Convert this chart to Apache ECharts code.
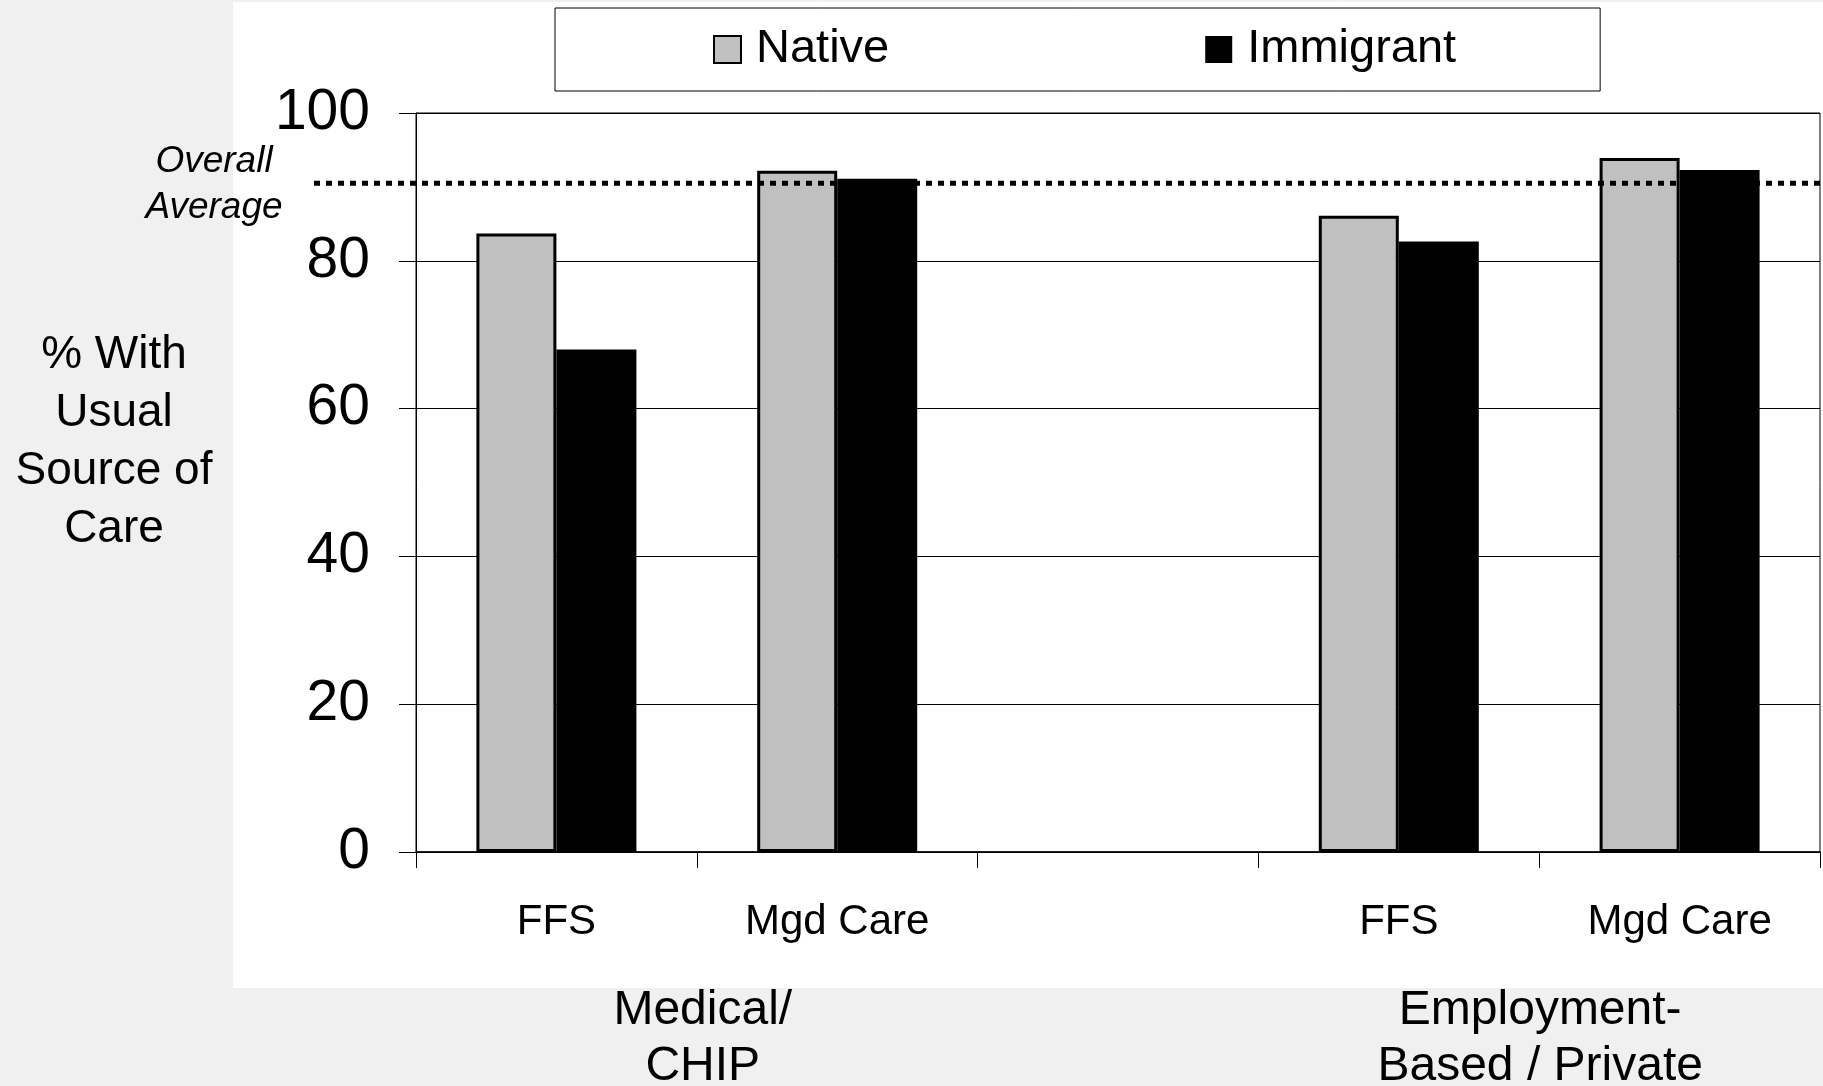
<!DOCTYPE html>
<html>
<head>
<meta charset="utf-8">
<script src="https://cdn.jsdelivr.net/npm/echarts@6/dist/echarts.min.js"></script>
<style>
  html, body { margin: 0; padding: 0; background: #f0f0f0; }
  #chart { width: 1823px; height: 1086px; }
</style>
</head>
<body>
<div id="chart"></div>
<script>
// Categories along the x axis (the empty slot separates the two coverage groups)
const categories = ['FFS', 'Mgd Care', '', 'FFS', 'Mgd Care'];
// % with a usual source of care
const nativeValues = [83.7, 92.2, null, 86.1, 93.9];
const immigrantValues = [68.0, 91.1, null, 82.6, 92.3];
const overallAverage = 90.5;
const yTicks = [0, 20, 40, 60, 80, 100];
const groupLabels = ['Medical/\nCHIP', 'Employment-\nBased / Private'];
const groupCenters = [[0, 1], [3, 4]]; // label sits between these two categories

const FONT = '"Liberation Sans", Arial, Helvetica, sans-serif';

const chart = echarts.init(document.getElementById('chart'), null, { renderer: 'canvas' });

chart.setOption({
  backgroundColor: '#f0f0f0',
  animation: false,
  graphic: [
    { id: 'panel', type: 'rect', z: -10, silent: true,
      shape: { x: 233, y: 2, width: 1590, height: 986 },
      style: { fill: '#ffffff' } }
  ],
  legend: {
    left: 555, top: 8,
    padding: [18, 144, 18, 158],
    itemWidth: 27, itemHeight: 27, itemGap: 316,
    borderColor: '#000', borderWidth: 1, backgroundColor: '#fff',
    icon: 'rect',
    textStyle: { fontSize: 47, fontFamily: FONT, color: '#000', padding: [0, 0, 0, 10] },
    data: [
      { name: 'Native', itemStyle: { color: '#c0c0c0', borderColor: '#000', borderWidth: 2 } },
      { name: 'Immigrant', itemStyle: { color: '#000', borderWidth: 0 } }
    ]
  },
  grid: {
    left: 416, right: 3, top: 113, bottom: 234,
    show: true, borderColor: '#000', borderWidth: 1, backgroundColor: '#fff'
  },
  xAxis: {
    type: 'category',
    data: categories,
    boundaryGap: true,
    axisLine: { show: true, lineStyle: { color: '#000', width: 1.5 } },
    axisTick: { show: true, length: 16, lineStyle: { color: '#000', width: 1 } },
    axisLabel: { fontSize: 42, fontFamily: FONT, color: '#000', margin: 49, interval: 0 }
  },
  yAxis: {
    type: 'value',
    min: yTicks[0], max: yTicks[yTicks.length - 1], interval: 20,
    axisLine: { show: true, lineStyle: { color: '#000', width: 1 } },
    axisTick: { show: true, length: 17, lineStyle: { color: '#000', width: 1 } },
    splitLine: { show: true, lineStyle: { color: '#000', width: 1 } },
    axisLabel: { fontSize: 57, fontFamily: FONT, color: '#000', margin: 46,
                 padding: [4, 0, 0, 0] }
  },
  series: [
    {
      name: 'Native', type: 'bar', data: nativeValues,
      barWidth: 80, barGap: '0%',
      itemStyle: { color: '#c0c0c0', borderColor: '#000', borderWidth: 3 }
    },
    {
      name: 'Immigrant', type: 'bar', data: immigrantValues,
      barWidth: 80,
      itemStyle: { color: '#000' }
    }
  ]
});

// Overlay: average reference line, axis title and group captions, placed via the axis scales
const yAvg = chart.convertToPixel({ yAxisIndex: 0 }, overallAverage);
const xAt = i => chart.convertToPixel({ xAxisIndex: 0 }, i);

const overlay = [
  { id: 'avgLine', type: 'line', z: 100, silent: true,
    shape: { x1: 314, y1: yAvg, x2: 1823, y2: yAvg },
    style: { stroke: '#000', lineWidth: 5, lineDash: [6, 6], lineCap: 'butt' } },
  { id: 'avgText', type: 'text', z: 100, silent: true,
    style: { text: 'Overall\nAverage', x: 214, y: yAvg + 1, align: 'center', verticalAlign: 'middle',
             font: 'italic 37px ' + FONT, lineHeight: 46, fill: '#000' } },
  { id: 'yTitle', type: 'text', z: 100, silent: true,
    style: { text: '% With\nUsual\nSource of\nCare', x: 114, y: 442, align: 'center', verticalAlign: 'middle',
             font: '46px ' + FONT, lineHeight: 58, fill: '#000' } }
];
groupLabels.forEach((label, g) => {
  const cx = (xAt(groupCenters[g][0]) + xAt(groupCenters[g][1])) / 2 + (g === 0 ? 6 : 1);
  overlay.push({ id: 'group' + g, type: 'text', z: 100, silent: true,
    style: { text: label, x: cx, y: 1039, align: 'center', verticalAlign: 'middle',
             font: '48px ' + FONT, lineHeight: 56, fill: '#000' } });
});
chart.setOption({ graphic: overlay });
</script>
</body>
</html>
